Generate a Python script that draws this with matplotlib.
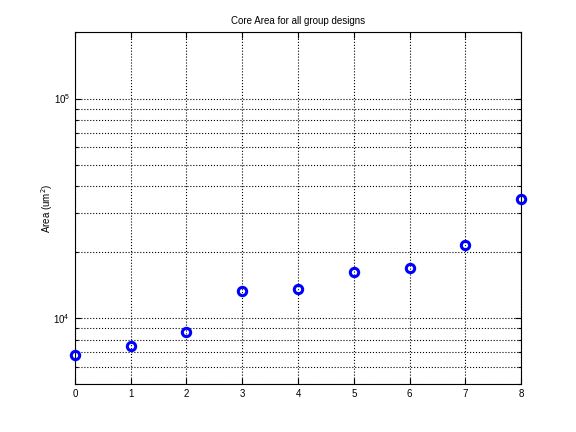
import matplotlib
matplotlib.use("Agg")
from matplotlib import pyplot as plt
import matplotlib.ticker as ticker

plt.rcParams['font.family'] = ['Liberation Sans', 'DejaVu Sans']

designs = [0, 1, 2, 3, 4, 5, 6, 7, 8]
core_area = [6825, 7520, 8620, 13300, 13620, 16270, 17020, 21500, 34920]

fig = plt.figure(figsize=(5.76, 4.32), dpi=100)
ax = fig.add_axes([0.13, 0.11, 0.775, 0.815])

ax.semilogy(designs, core_area, 'o', color='blue', markerfacecolor='none',
            markeredgecolor='blue', markersize=6, markeredgewidth=2.2,
            clip_on=False, zorder=3)

ax.set_xlim(0, 8)
ax.set_ylim(5000, 2e5)
ax.xaxis.set_major_locator(ticker.MultipleLocator(1))
ax.yaxis.set_major_locator(ticker.LogLocator(base=10, numticks=10))
ax.yaxis.set_minor_locator(ticker.LogLocator(base=10, subs=range(2, 10), numticks=10))
ax.yaxis.set_minor_formatter(ticker.NullFormatter())

ax.grid(True, which='major', axis='both', linestyle=':', color='black', linewidth=0.8)
ax.grid(True, which='minor', axis='y', linestyle=':', color='black', linewidth=0.8)

ax.tick_params(which='both', direction='in', top=True, right=True, labelsize=7, width=0.8)
ax.tick_params(which='major', length=4)
ax.tick_params(which='minor', length=2)
for s in ax.spines.values():
    s.set_linewidth(0.8)

ax.set_title('Core Area for all group designs', fontsize=7)
ax.set_ylabel('Area (um$^2$)', fontsize=7)
ax.yaxis.set_label_coords(-0.045, 0.5)

fig.savefig('out.png', dpi=100)
